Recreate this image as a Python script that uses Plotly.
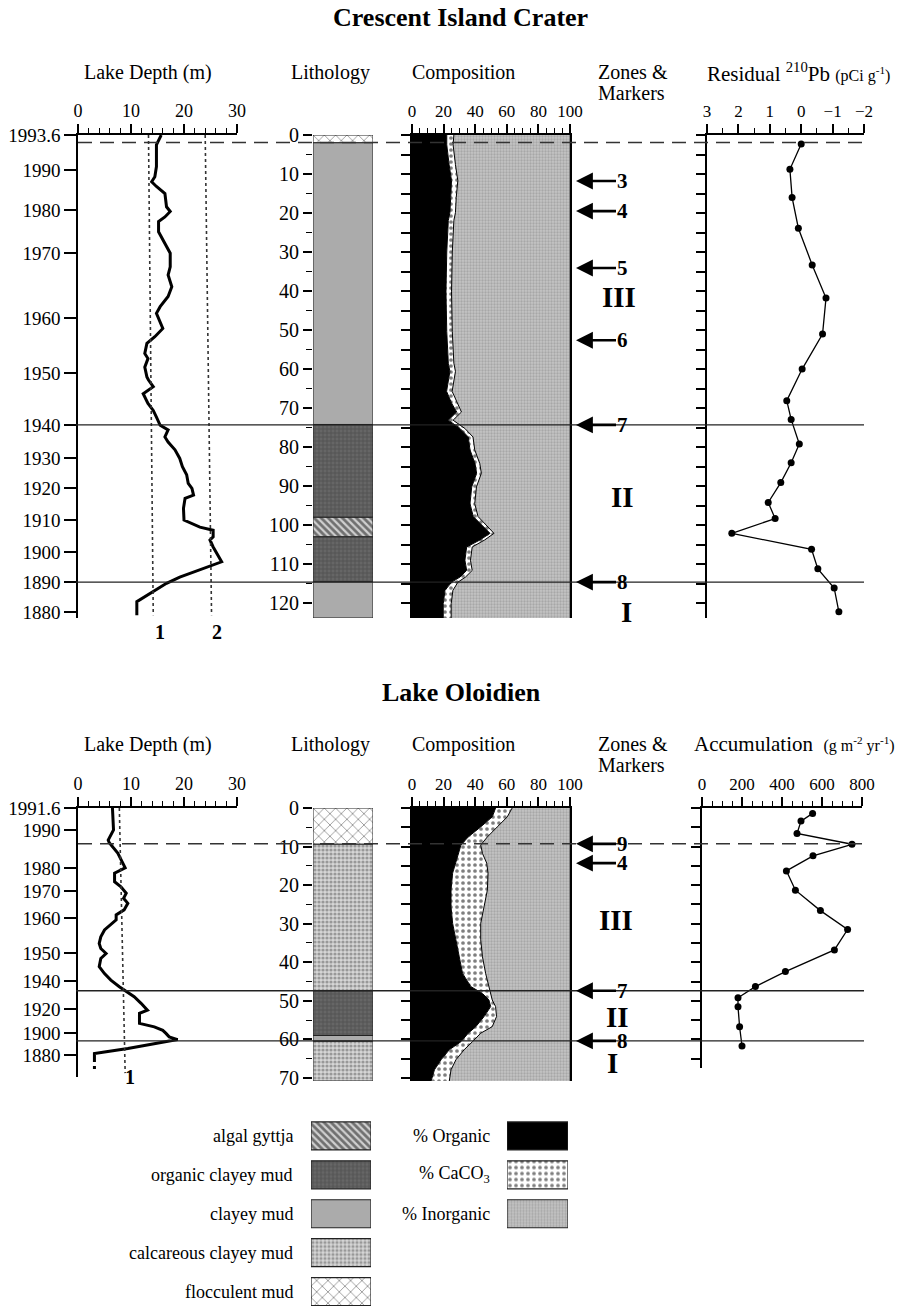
import plotly.graph_objects as go

W, H = 921, 1306
SERIF = "Liberation Serif"


def X(px):
    return px / W


def Y(py):
    return 1 - py / H


# ---------------- Crescent Island Crater ----------------
cic_year_labels = ["1993.6", "1990", "1980", "1970", "1960", "1950", "1940",
                   "1930", "1920", "1910", "1900", "1890", "1880"]
cic_year_core = [0, 9.0, 19.2, 30.3, 46.9, 61.0, 74.4, 82.8, 90.5, 98.7, 106.9, 114.6, 122.3]

cic_lake_core = [0.0, 2.5, 8.1, 10.7, 12.0, 13.2, 15.0, 18.4, 19.6, 21.0, 22.2, 24.8, 27.8,
                 30.3, 33.8, 35.9, 38.9, 41.4, 44.0, 45.7, 49.6, 51.7, 53.4, 56.0, 57.3,
                 59.5, 62.0, 62.8, 64.5, 66.3, 68.8, 70.6, 72.3, 74.4, 75.6, 77.4, 78.7,
                 80.7, 82.9, 85.0, 87.1, 89.3, 90.6, 92.3, 93.1, 95.7, 98.7, 100.5, 101.3,
                 103.0, 103.8, 105.6, 109.4, 111.2, 113.3, 114.9, 119.2, 119.6, 123.1]
cic_lake_m = [15.7, 14.8, 14.8, 14.5, 13.9, 14.8, 16.4, 16.7, 17.4, 16.4, 15.2, 15.2, 16.4,
              17.4, 17.4, 17.0, 17.7, 17.0, 15.5, 14.8, 16.0, 14.5, 13.0, 12.6, 13.2,
              12.6, 13.0, 13.3, 14.2, 12.3, 13.2, 14.2, 14.8, 15.5, 17.0, 16.4, 17.0,
              18.3, 19.2, 19.7, 20.5, 20.8, 21.5, 21.8, 20.2, 19.9, 20.0, 23.0, 25.5,
              25.5, 24.9, 25.5, 27.1, 23.6, 19.2, 16.7, 11.4, 11.1, 11.1]
cic_ref_core = [0, 123.1]
cic_ref1_m = [13.3, 14.2]
cic_ref2_m = [24.0, 25.2]

cic_lith_top = [0, 2, 74.2, 98, 103, 114.5]
cic_lith_bot = [2, 74.2, 98, 103, 114.5, 123.8]
cic_lith_type = ["flocculent mud", "clayey mud", "organic clayey mud", "algal gyttja",
                 "organic clayey mud", "clayey mud"]

cic_comp_core = [0, 2.5, 7.6, 11.7, 16, 19.9, 21.9, 30.0, 40.2, 50.4, 58.5, 60.6, 65.7,
                 68.7, 71.0, 73.1, 75.2, 77.4, 80.7, 84.2, 86.7, 90.2, 94.5, 97.8, 102.1,
                 103.8, 105.6, 109.0, 111.6, 113.3, 114.6, 116.7, 120.1, 123.8]
cic_organic = [22, 22, 23.5, 25, 24.5, 24, 23, 22, 21.5, 22, 23, 24, 21.9, 25, 28.3, 23,
               30.4, 35.6, 36.7, 39.9, 40.9, 37.8, 36.7, 38.8, 49.4, 43, 34.6, 33.5, 34.6,
               30.4, 25.1, 20.9, 19.8, 19.8]
cic_caco3 = [4.5, 4, 4, 4, 3.5, 3.5, 3.5, 3.5, 3.5, 3.5, 3.5, 3.5, 3.5, 3.5, 3, 3, 3, 3,
             3, 3, 3, 3, 3, 3, 2.5, 3, 3.5, 3.5, 3.5, 3.5, 4, 5, 5, 5]

cic_pb_core = [2.3, 8.8, 16.0, 23.9, 33.3, 41.8, 51.0, 60.0, 68.1, 72.9, 79.2, 84.0, 89.1,
               94.2, 98.3, 102.1, 106.2, 111.2, 116.1, 122.2]
cic_pb = [0.0, 0.36, 0.29, 0.09, -0.35, -0.79, -0.68, -0.03, 0.46, 0.32, 0.06, 0.32, 0.65,
          1.05, 0.83, 2.21, -0.33, -0.53, -1.05, -1.2]

cic_markers = ["3", "4", "5", "6", "7", "8"]
cic_marker_core = [11.8, 19.5, 34.1, 52.6, 74.3, 114.6]
cic_dashed_core = [1.9]
cic_solid_core = [74.3, 114.6]
cic_zones = ["III", "II", "I"]

# ---------------- Lake Oloidien ----------------
olo_year_labels = ["1991.6", "1990", "1980", "1970", "1960", "1950", "1940", "1920", "1900", "1880"]
olo_year_core = [0, 5.7, 15.6, 21.5, 28.5, 37.6, 44.9, 52.1, 58.3, 64.0]

olo_lake_core = [0, 5.7, 8.3, 9.0, 11.7, 14.3, 15.5, 16.9, 19.1, 20.4, 22.1, 23.4, 24.7,
                 26.4, 27.7, 29.0, 30.3, 31.6, 33.4, 35.1, 36.4, 37.7, 39.0, 41.1, 42.9,
                 44.6, 46.3, 47.6, 48.9, 50.6, 52.4, 53.2, 55.8, 56.7, 57.6, 58.4, 59.3,
                 60.0, 61.0, 62.3, 63.2, 63.6, 64.5]
olo_lake_m = [6.5, 6.7, 5.7, 5.9, 7.5, 8.4, 8.9, 6.9, 6.9, 8.1, 9.1, 8.6, 9.4,
              8.7, 7.2, 7.2, 6.2, 5.0, 4.3, 4.0, 4.3, 5.3, 4.3, 4.0, 5.0,
              6.2, 7.8, 9.1, 10.6, 11.9, 13.1, 11.6, 11.6, 14.4, 16.0, 16.6, 17.2,
              18.8, 15.0, 9.4, 5.0, 3.1, 3.1]
olo_lake_dash_core = [64.5, 67.6]
olo_lake_dash_m = [3.1, 3.1]
olo_ref_core = [0, 68.7]
olo_ref1_m = [7.8, 8.9]

olo_lith_top = [0, 9.4, 47.4, 59.0, 60.5]
olo_lith_bot = [9.4, 47.4, 59.0, 60.5, 70.8]
olo_lith_type = ["flocculent mud", "calcareous clayey mud", "organic clayey mud",
                 "clayey mud", "calcareous clayey mud"]

olo_comp_core = [0, 2.3, 4.9, 7.5, 9.6, 11.8, 14.3, 16.9, 21.3, 25.6, 29.9, 34.2, 38.6,
                 42.9, 46.3, 48.1, 49.8, 51.5, 54.1, 56.7, 58.4, 60.6, 62.7, 65.3, 67.9, 70.8]
olo_organic = [52.9, 50.8, 43.5, 35.6, 31.0, 29.3, 27.8, 25.7, 24.7, 24.7, 25.7, 27.8, 29.9,
               32.0, 37.2, 44.6, 48.7, 49.8, 45.6, 40.4, 35.6, 31.0, 23.6, 18.4, 14.2, 12.1]
olo_caco3 = [10.5, 9.5, 10.5, 12.1, 12.5, 15.3, 19.5, 22.4, 23.0, 20.9, 17.8, 15.7, 14.7,
             14.6, 11.5, 5.2, 2.1, 3.1, 7.9, 10.4, 7.9, 7.3, 9.4, 9.4, 10.5, 11.5]

olo_acc_core = [1.4, 3.4, 6.6, 9.4, 12.4, 16.3, 21.3, 26.6, 31.5, 36.8, 42.4, 46.3, 49.2,
                51.5, 56.7, 61.7]
olo_acc = [553, 495, 475, 750, 555, 422, 467, 592, 728, 662, 417, 267, 180, 180, 188, 200]

olo_markers = ["9", "4", "7", "8"]
olo_marker_core = [9.3, 14.3, 47.4, 60.4]
olo_dashed_core = [9.3]
olo_solid_core = [47.4, 60.4]
olo_zones = ["III", "II", "I"]

# ---------------- Legend ----------------
lith_legend = ["algal gyttja", "organic clayey mud", "clayey mud", "calcareous clayey mud",
               "flocculent mud"]
comp_legend = ["% Organic", "% CaCO<sub>3</sub>", "% Inorganic"]

# ---------------- styles ----------------
lith_style = {
    "algal gyttja": dict(color="#cfcfcf", pattern=dict(shape="\\", fgcolor="#111111",
                                                       bgcolor="#cfcfcf", size=5, solidity=0.55)),
    "organic clayey mud": dict(color="#585858", pattern=dict(shape="+", fgcolor="#303030",
                                                             bgcolor="#666666", size=4, solidity=0.3)),
    "clayey mud": dict(color="#ababab"),
    "calcareous clayey mud": dict(color="#d0d0d0", pattern=dict(shape=".", fgcolor="#5a5a5a",
                                                                bgcolor="#d6d6d6", size=4, solidity=0.5)),
    "flocculent mud": dict(color="white", pattern=dict(shape="x", fgcolor="#222222",
                                                       bgcolor="white", size=8, solidity=0.2)),
}
caco3_pattern = dict(shape=".", fgcolor="black", bgcolor="white", size=6, solidity=0.3)
inorg_pattern = dict(shape=".", fgcolor="#8a8a8a", bgcolor="#c4c4c4", size=3, solidity=0.45)

fig = go.Figure()

TOP = dict(y0=135, y1=618, rng=[123.8, 0])
BOT = dict(y0=808, y1=1081, rng=[70.8, 0])


def tf(size):
    return dict(family=SERIF, size=size, color="black")


def ydom(y0, y1):
    return [Y(y1), Y(y0)]


def add_section(n0, sec, years, ylabels, lake_core, lake_m, refs, lith, comp, right, markers,
                dashed, solid, zones, zone_pos, ref_labels, lake_dash=None,
                depth_dom_bottom=None, right_dom_bottom=None):
    xa = [f"x{n0 + i}" if n0 + i > 1 else "x" for i in range(4)]
    ya = [f"y{n0 + i}" if n0 + i > 1 else "y" for i in range(4)]
    names = [a.replace("x", "xaxis") for a in xa]
    ynames = [a.replace("y", "yaxis") for a in ya]
    y0, y1, rng = sec["y0"], sec["y1"], sec["rng"]
    yd1 = depth_dom_bottom[0] if depth_dom_bottom else y1
    yr1 = depth_dom_bottom[1] if depth_dom_bottom else rng[0]

    def cx(**kw):
        d = dict(side="top", showline=True, linecolor="black", linewidth=1.5, ticks="outside",
                 tickcolor="black", tickwidth=1.5, ticklen=9, tickfont=tf(18),
                 showgrid=False, zeroline=False, fixedrange=True, automargin=False)
        d.update(kw)
        return d

    def cy(**kw):
        d = dict(showline=True, linecolor="black", linewidth=1.5, ticks="outside",
                 tickcolor="black", tickwidth=1.5, ticklen=9, tickfont=tf(18),
                 showgrid=False, zeroline=False, automargin=False, fixedrange=True)
        d.update(kw)
        return d

    mt = lambda dt: dict(dtick=dt, ticks="outside", ticklen=5, tickcolor="black", tickwidth=1.2)

    fig.layout[names[0]] = cx(domain=[X(78), X(237)], range=[0, 30], anchor=ya[0], dtick=10,
                              minor=mt(2))
    fig.layout[ynames[0]] = cy(domain=ydom(y0, yd1), range=[yr1, 0], anchor=xa[0],
                               tickmode="array", tickvals=years, ticktext=ylabels, ticklen=12,
                               tickfont=tf(19))
    fig.layout[names[1]] = dict(domain=[X(313), X(373)], range=[-0.5, 0.5], anchor=ya[1],
                                visible=False, fixedrange=True, automargin=False)
    fig.layout[ynames[1]] = cy(domain=ydom(y0, y1), range=rng, anchor=xa[1], dtick=10, tick0=0,
                               minor=dict(dtick=5, ticks="outside", ticklen=6, tickcolor="black",
                                          tickwidth=1.2),
                               showline=False, tickfont=tf(20))
    fig.layout[names[2]] = cx(domain=[X(412), X(570)], range=[0, 100], anchor=ya[2], dtick=20,
                              minor=mt(5), tickfont=tf(17))
    fig.layout[ynames[2]] = cy(domain=ydom(y0, y1), range=rng, anchor=xa[2], dtick=5, tick0=0,
                               showticklabels=False, mirror=True)
    fig.layout[names[3]] = cx(domain=[X(right["x0"]), X(right["x1"])], range=right["range"],
                              anchor=ya[3], dtick=right["dtick"], minor=mt(right["minor"]),
                              tickfont=tf(17))
    rb = right_dom_bottom if right_dom_bottom else (y1, rng[0])
    fig.layout[ynames[3]] = cy(domain=ydom(y0, rb[0]), range=[rb[1], 0], anchor=xa[3], dtick=5,
                               tick0=0, showticklabels=False)

    # ---- lake depth ----
    fig.add_trace(go.Scatter(x=lake_m, y=lake_core, mode="lines", xaxis=xa[0], yaxis=ya[0],
                             line=dict(color="black", width=3)))
    if lake_dash:
        fig.add_trace(go.Scatter(x=lake_dash[1], y=lake_dash[0], mode="lines", xaxis=xa[0],
                                 yaxis=ya[0], line=dict(color="black", width=3, dash="5px,4px")))
    for rc, rm in refs:
        fig.add_trace(go.Scatter(x=rm, y=rc, mode="lines", xaxis=xa[0], yaxis=ya[0],
                                 line=dict(color="#333333", width=1.6, dash="dot")))
    for t, px, py in ref_labels:
        fig.add_annotation(text=f"<b>{t}</b>", x=X(px), y=Y(py), xref="paper", yref="paper",
                           showarrow=False, font=tf(20))

    # ---- lithology ----
    for top, bot, kind in zip(*lith):
        st = lith_style[kind]
        fig.add_trace(go.Bar(x=[0], y=[bot - top], base=[top], width=1, xaxis=xa[1], yaxis=ya[1],
                             marker=dict(color=st["color"], pattern=st.get("pattern"),
                                         line=dict(color="#222222", width=1))))

    # ---- composition ----
    ccore, org, cac = comp
    tot = [o + c for o, c in zip(org, cac)]
    fig.add_trace(go.Scatter(x=org, y=ccore, mode="lines", xaxis=xa[2], yaxis=ya[2],
                             line=dict(color="black", width=1), fill="tozerox",
                             fillcolor="black"))
    fig.add_trace(go.Scatter(x=tot, y=ccore, mode="lines", xaxis=xa[2], yaxis=ya[2],
                             line=dict(color="black", width=1), fill="tonextx",
                             fillcolor="white", fillpattern=caco3_pattern))
    fig.add_trace(go.Scatter(x=[100] * len(ccore), y=ccore, mode="lines", xaxis=xa[2],
                             yaxis=ya[2], line=dict(color="#555555", width=1), fill="tonextx",
                             fillcolor="#c4c4c4", fillpattern=inorg_pattern))

    # ---- right panel ----
    fig.add_trace(go.Scatter(x=right["vals"], y=right["core"], mode="lines+markers",
                             xaxis=xa[3], yaxis=ya[3], line=dict(color="black", width=1.3),
                             marker=dict(color="black", size=7)))

    # ---- horizontal marker lines ----
    for d in dashed:
        fig.add_shape(type="line", xref="paper", yref=ya[2], x0=X(78), x1=X(862), y0=d, y1=d,
                      line=dict(color="#333333", width=1.5, dash="14px,8px"), layer="above")
    for d in solid:
        fig.add_shape(type="line", xref="paper", yref=ya[2], x0=X(76), x1=X(864), y0=d, y1=d,
                      line=dict(color="#222222", width=1.3), layer="above")

    # ---- arrows ----
    for lab, d in zip(*markers):
        fig.add_annotation(text=f"<b>{lab}</b>", x=X(576), y=d, xref="paper", yref=ya[2],
                           ax=46, ay=0, axref="pixel", ayref="pixel", showarrow=True,
                           arrowhead=2, arrowsize=1.3, arrowwidth=2.6, arrowcolor="black",
                           standoff=0, borderpad=0, font=tf(21))
    for z, (px, d) in zip(zones, zone_pos):
        fig.add_annotation(text=f"<b>{z}</b>", x=X(px), y=d, xref="paper", yref=ya[2],
                           showarrow=False, font=tf(29))


add_section(1, TOP, cic_year_core, cic_year_labels, cic_lake_core, cic_lake_m,
            [(cic_ref_core, cic_ref1_m), (cic_ref_core, cic_ref2_m)],
            (cic_lith_top, cic_lith_bot, cic_lith_type),
            (cic_comp_core, cic_organic, cic_caco3),
            dict(x0=707, x1=864, range=[3, -2], dtick=1, minor=0.5, vals=cic_pb, core=cic_pb_core),
            (cic_markers, cic_marker_core), cic_dashed_core, cic_solid_core, cic_zones,
            [(638, 41.5), (636, 92.8), (634, 122.3)],
            [("1", 153, 632), ("2", 210, 632)])

add_section(5, BOT, olo_year_core, olo_year_labels, olo_lake_core, olo_lake_m,
            [(olo_ref_core, olo_ref1_m)],
            (olo_lith_top, olo_lith_bot, olo_lith_type),
            (olo_comp_core, olo_organic, olo_caco3),
            dict(x0=702, x1=862, range=[0, 800], dtick=200, minor=50, vals=olo_acc, core=olo_acc_core),
            (olo_markers, olo_marker_core), olo_dashed_core, olo_solid_core, olo_zones,
            [(635, 29.0), (631, 54.2), (620, 66.1)],
            [("1", 123, 1090)], lake_dash=(olo_lake_dash_core, olo_lake_dash_m),
            depth_dom_bottom=(1077, 69.7), right_dom_bottom=(1068, 67.4))

# ---------------- legend (swatches as bars) ----------------
leg_dom = ydom(1116.5, 1306)
leg_rng = [4.371, -0.5]
fig.layout["xaxis9"] = dict(domain=[X(311), X(371)], range=[0, 1], anchor="y9", visible=False,
                            fixedrange=True, automargin=False)
fig.layout["xaxis10"] = dict(domain=[X(507), X(568)], range=[0, 1], anchor="y9", visible=False,
                             fixedrange=True, automargin=False)
fig.layout["yaxis9"] = dict(domain=leg_dom, range=leg_rng, anchor="x9", visible=False,
                            fixedrange=True, automargin=False)
for i, kind in enumerate(lith_legend):
    st = lith_style[kind]
    fig.add_trace(go.Bar(y=[i], x=[1], base=[0], width=0.72, orientation="h", xaxis="x9",
                         yaxis="y9", marker=dict(color=st["color"], pattern=st.get("pattern"),
                                                 line=dict(color="#222222", width=1.2))))
    fig.add_annotation(text=kind, x=X(295), y=i, xref="paper", yref="y9", xanchor="right",
                       showarrow=False, font=tf(18))
comp_leg_style = [dict(color="black"),
                  dict(color="white", pattern=caco3_pattern),
                  dict(color="#c4c4c4", pattern=inorg_pattern)]
for i, (lab, st) in enumerate(zip(comp_legend, comp_leg_style)):
    fig.add_trace(go.Bar(y=[i], x=[1], base=[0], width=0.72, orientation="h", xaxis="x10",
                         yaxis="y9", marker=dict(color=st["color"], pattern=st.get("pattern"),
                                                 line=dict(color="#222222", width=1.2))))
    fig.add_annotation(text=lab, x=X(492), y=i, xref="paper", yref="y9", xanchor="right",
                       showarrow=False, font=tf(18))


# ---------------- titles & headers ----------------
def txt(s, px, py, size=20, anchor="left", bold=False):
    fig.add_annotation(text=f"<b>{s}</b>" if bold else s, x=X(px), y=Y(py), xref="paper",
                       yref="paper", xanchor=anchor, yanchor="middle", showarrow=False,
                       font=tf(size))


txt("Crescent Island Crater", 460, 18, size=26, anchor="center", bold=True)
txt("Lake Oloidien", 461, 692, size=26, anchor="center", bold=True)
for base in (72, 744):
    txt("Lake Depth (m)", 82, base)
    txt("Lithology", 289, base)
    txt("Composition", 410, base)
    txt("Zones &", 596, base)
    txt("Markers", 596, base + 21)
txt("Residual <sup>210</sup>Pb <span style='font-size:16px'>(pCi g<sup>-1</sup>)</span>", 705, 72,
    size=21)
txt("Accumulation  <span style='font-size:16px'>(g m<sup>-2</sup> yr<sup>-1</sup>)</span>", 692,
    744, size=21)

fig.update_layout(width=W, height=H, margin=dict(l=0, r=0, t=0, b=0, autoexpand=False),
                  showlegend=False, barmode="overlay", plot_bgcolor="white",
                  paper_bgcolor="white", font=dict(family=SERIF, color="black"))

fig.write_html("out.html", config={"displayModeBar": False},
               post_script="document.body.style.margin='0px';document.body.style.padding='0px';")
